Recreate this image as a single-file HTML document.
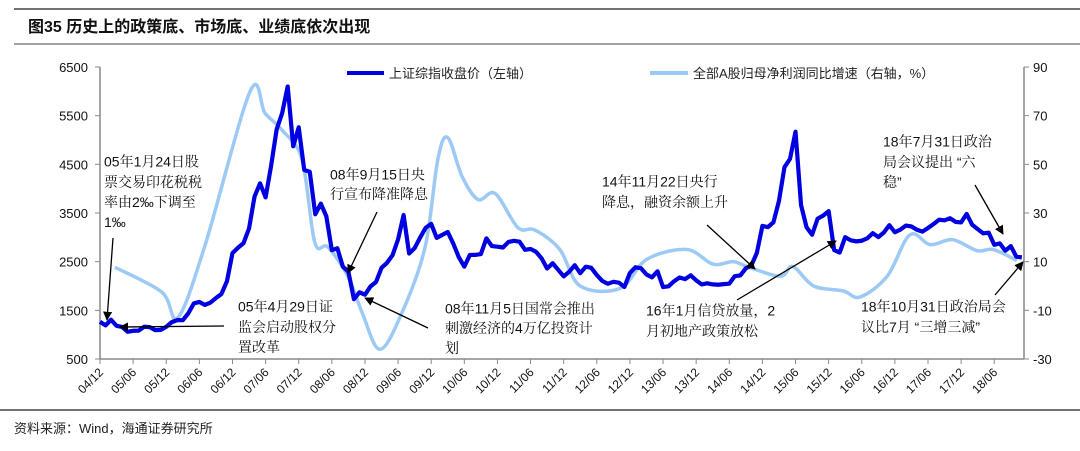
<!DOCTYPE html>
<html><head><meta charset="utf-8"><style>
body{margin:0;background:#fff;width:1080px;height:446px;overflow:hidden;font-family:"Liberation Sans","Noto Sans CJK SC",sans-serif;}
svg text{font-family:"Liberation Sans","Noto Sans CJK SC",sans-serif;}
svg .ann text{font-family:"Liberation Sans","Noto Serif CJK SC",serif;}
</style></head><body>
<svg id="chart" width="1080" height="446" viewBox="0 0 1080 446" xmlns="http://www.w3.org/2000/svg">
<defs><marker id="ah" viewBox="0 0 10 10" refX="9" refY="5" markerWidth="7" markerHeight="7" orient="auto"><path d="M0,0 L10,5 L0,10 z" fill="#000"/></marker></defs>
<line x1="14" y1="9" x2="1080" y2="9" stroke="#444" stroke-width="1.5"/>
<text x="28" y="32" font-size="16" font-weight="bold" fill="#111">图35 历史上的政策底、市场底、业绩底依次出现</text>
<line x1="14" y1="44" x2="1080" y2="44" stroke="#444" stroke-width="1"/>
<line x1="0" y1="410" x2="1080" y2="410" stroke="#444" stroke-width="1.5"/>
<text x="14" y="433" font-size="13" fill="#222">资料来源：Wind，海通证券研究所</text>
<g id="axes"></g>
<g id="series"></g>
<g>
<line x1="347" y1="73" x2="384" y2="73" stroke="#0000e0" stroke-width="4"/>
<text x="389" y="78" font-size="13" fill="#222">上证综指收盘价（左轴）</text>
<line x1="650" y1="73" x2="688" y2="73" stroke="#9ccaf5" stroke-width="4"/>
<text x="693" y="78" font-size="13" fill="#222">全部A股归母净利润同比增速（右轴，%）</text>
</g>
<g class="ann" font-size="14" fill="#111" dominant-baseline="middle">
<text x="104" y="163">05年1月24日股<tspan x="104" y="183">票交易印花税税</tspan><tspan x="104" y="203">率由2‰下调至</tspan><tspan x="104" y="223">1‰</tspan></text>
<text x="238" y="308">05年4月29日证<tspan x="238" y="328">监会启动股权分</tspan><tspan x="238" y="348">置改革</tspan></text>
<text x="330" y="176">08年9月15日央<tspan x="330" y="195">行宣布降准降息</tspan></text>
<text x="445" y="310">08年11月5日国常会推出<tspan x="445" y="329">刺激经济的4万亿投资计</tspan><tspan x="445" y="349">划</tspan></text>
<text x="602" y="183">14年11月22日央行<tspan x="602" y="203">降息，融资余额上升</tspan></text>
<text x="646" y="312">16年1月信贷放量，2<tspan x="646" y="332">月初地产政策放松</tspan></text>
<text x="883" y="143">18年7月31日政治<tspan x="883" y="163">局会议提出 “六</tspan><tspan x="883" y="183">稳”</tspan></text>
<text x="861" y="308">18年10月31日政治局会<tspan x="861" y="328">议比7月 “三增三减”</tspan></text>
</g>
<g stroke="#000" stroke-width="1.3" marker-end="url(#ah)">
<line x1="113" y1="238" x2="107" y2="320"/>
<line x1="224" y1="326" x2="120" y2="327"/>
<line x1="377" y1="212" x2="348" y2="273"/>
<line x1="428" y1="328" x2="365" y2="298"/>
<line x1="707" y1="225" x2="755" y2="269"/>
<line x1="737" y1="300" x2="836" y2="241"/>
<line x1="975" y1="185" x2="1003" y2="234"/>
<line x1="995" y1="295" x2="1023" y2="262"/>
</g>
</svg>
<script>
const xTickLabels=["04/12","05/06","05/12","06/06","06/12","07/06","07/12","08/06","08/12","09/06","09/12","10/06","10/12","11/06","11/12","12/06","12/12","13/06","13/12","14/06","14/12","15/06","15/12","16/06","16/12","17/06","17/12","18/06"];
const leftTicks=[500,1500,2500,3500,4500,5500,6500];
const rightTicks=[-30,-10,10,30,50,70,90];
const indexValues=[1266,1191,1306,1181,1159,1060,1080,1083,1162,1155,1092,1099,1161,
1258,1299,1298,1440,1642,1672,1612,1658,1752,1837,2099,2675,
2786,2881,3183,3841,4109,3821,4471,5218,5552,6100,4871,5262,
4383,4348,3473,3693,3433,2736,2775,2397,2293,1729,1871,1821,
1991,2082,2373,2477,2633,2959,3459,2668,2779,2996,3195,3277,
2989,3051,3110,2871,2592,2398,2638,2639,2656,2979,2820,2808,
2791,2905,2928,2911,2743,2762,2701,2568,2359,2468,2333,2199,
2292,2428,2263,2397,2373,2225,2103,2047,2086,2069,1980,2269,
2385,2365,2237,2178,2301,1979,1994,2098,2175,2141,2220,2116,
2033,2056,2033,2026,2039,2048,2202,2217,2364,2420,2683,3235,
3210,3310,3748,4442,4612,5170,3664,3206,3053,3383,3446,3539,
2738,2688,3004,2938,2917,2930,2979,3085,3005,3100,3250,3104,
3159,3242,3223,3155,3117,3192,3273,3361,3349,3393,3317,3307,
3481,3259,3169,3082,3095,2847,2876,2725,2821,2603,2588];
const profitMonths=[2.7,11.2,14.1,19,27.2,29.9,33,36.6,38.9,41.3,44.9,47.5,50.7,54.7,58.9,61.2,63,65.6,68.5,71.6,75.7,78.8,83.3,87,94.2,99.1,106.3,111,114.7,117.2,123.2,125.5,129.3,134.6,137.7,142.6,146.7,150.4,154.5,158.9,161.8,166.1];
const profitValues=[7.7,-2.5,-13,16.5,80,71,64,52,18,16,4,-11,-26,-11,16,52,61,45,35.5,38,24,23,15,0,-1,11,15,9,10,8,4,8,0,-2,-4.5,4,21,17,19,14.5,15,10.5];

const X0=100,MW=5.52,YB=359,YT=67;
const xS=m=>X0+m*MW;
const yL=v=>YB-(v-500)*(YB-YT)/6000;
const yR=v=>YB-(v+30)*(YB-YT)/120;
const NS="http://www.w3.org/2000/svg";
function mk(tag,attrs,parent){const e=document.createElementNS(NS,tag);for(const k in attrs)e.setAttribute(k,attrs[k]);parent.appendChild(e);return e;}
const ax=document.getElementById('axes'), se=document.getElementById('series');
let e;
e=mk('line',{x1:X0,y1:YT,x2:X0,y2:YB,stroke:'#888','stroke-width':1.5},ax);


e=mk('line',{x1:1024,y1:YT,x2:1024,y2:YB,stroke:'#888','stroke-width':1.5},ax);


e=mk('line',{x1:X0,y1:YB,x2:1024,y2:YB,stroke:'#888','stroke-width':1.5},ax);


leftTicks.forEach(v=>{const y=yL(v);
 mk('line',{x1:X0-5,y1:y,x2:X0,y2:y,stroke:'#888'},ax);
 e=mk('text',{x:88,y:y+5,'font-size':13,'text-anchor':'end',fill:'#111'},ax);e.textContent=v;
 
 });
rightTicks.forEach(v=>{const y=yR(v);
 mk('line',{x1:1024,y1:y,x2:1029,y2:y,stroke:'#888'},ax);
 e=mk('text',{x:1033,y:y+5,'font-size':13,fill:'#111'},ax);e.textContent=v;
 
 });
xTickLabels.forEach((l,i)=>{const x=xS(i*6);
 mk('line',{x1:x,y1:YB,x2:x,y2:YB+5,stroke:'#888'},ax);
 e=mk('text',{x:x+4,y:YB+14,'font-size':12,'text-anchor':'end',fill:'#111',transform:`rotate(-45 ${x+4} ${YB+14})`},ax);e.textContent=l;
 
 });
const pp=profitMonths.map((m,i)=>[xS(m),yR(profitValues[i])]);
let d=`M${pp[0][0]},${pp[0][1]}`;
for(let i=0;i<pp.length-1;i++){const p0=pp[i-1]||pp[i],p1=pp[i],p2=pp[i+1],p3=pp[i+2]||p2;
 d+=` C${p1[0]+(p2[0]-p0[0])/6},${p1[1]+(p2[1]-p0[1])/6} ${p2[0]-(p3[0]-p1[0])/6},${p2[1]-(p3[1]-p1[1])/6} ${p2[0]},${p2[1]}`;}
e=mk('path',{d:d,fill:'none',stroke:'#9ccaf5','stroke-width':3.5},se);


const ip=indexValues.map((v,i)=>`${xS(i)},${yL(v)}`).join(' ');
e=mk('polyline',{points:ip,fill:'none',stroke:'#0000e0','stroke-width':4.2,'stroke-linejoin':'round'},se);


</script>
</body></html>
